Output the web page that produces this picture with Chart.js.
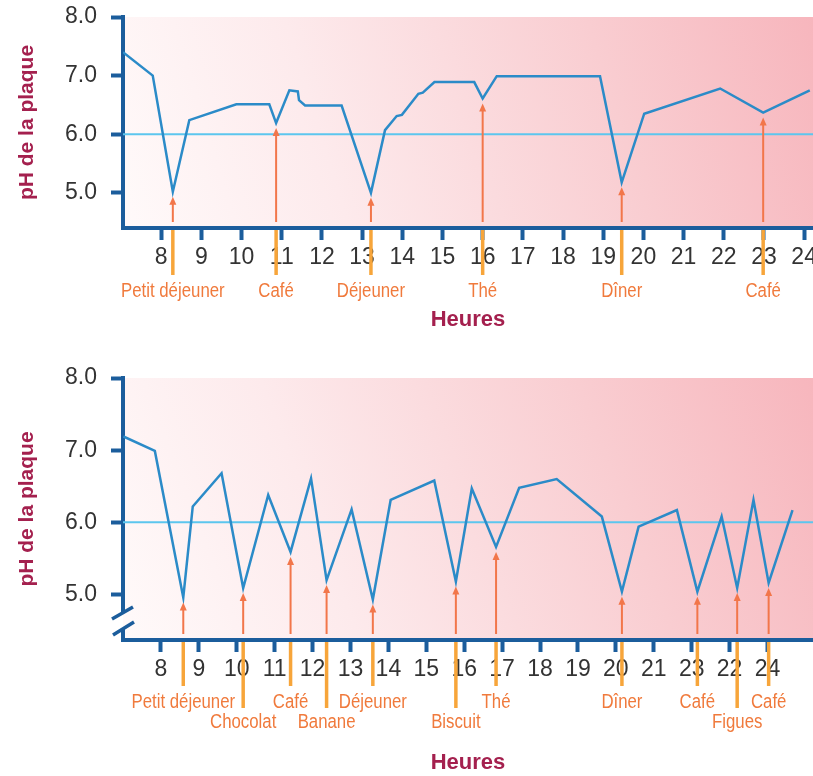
<!DOCTYPE html>
<html>
<head>
<meta charset="utf-8">
<script src="https://cdn.jsdelivr.net/npm/chart.js@4.4.1/dist/chart.umd.min.js"></script>
<style>
html, body { margin: 0; padding: 0; background: #fff; }
#top { position: absolute; left: 0; top: 0; }
#bottom { position: absolute; left: 0; top: 340px; }
</style>
</head>
<body>
<canvas id="top" width="813" height="340"></canvas>
<canvas id="bottom" width="813" height="436"></canvas>
<script>
// ---- data, top chart (normal day) ----
const topHours = [7.05, 7.79, 8.29, 8.70, 9.87, 10.69, 10.86, 11.19, 11.40, 11.43, 11.58, 12.49, 13.22, 13.57,
                  13.86, 13.99, 14.40, 14.51, 14.80, 15.79, 16.00, 16.35, 18.92, 19.46, 20.02, 21.91, 22.98, 24.14];
const topPH = [7.40, 7.00, 5.02, 6.24, 6.51, 6.51, 6.19, 6.75, 6.73, 6.58, 6.49, 6.49, 5.00, 6.07,
               6.31, 6.33, 6.69, 6.71, 6.89, 6.89, 6.61, 6.99, 6.99, 5.18, 6.35, 6.78, 6.37, 6.75];
const topTickPos = [8, 9, 10, 11, 12, 13, 14, 15, 16, 17, 18, 19, 20, 21, 22, 23, 24];
const topTickLabels = ['8', '9', '10', '11', '12', '13', '14', '15', '16', '17', '18', '19', '20', '21', '22', '23', '24'];
const topEventHours = [8.29, 10.86, 13.22, 16.00, 19.46, 22.98];
const topEventLabels = ['Petit déjeuner', 'Café', 'Déjeuner', 'Thé', 'Dîner', 'Café'];
const topEventRows = [0, 0, 0, 0, 0, 0];

// ---- data, bottom chart (snacking day) ----
const botHours = [7.01, 7.84, 8.59, 8.84, 9.60, 10.17, 10.83, 11.42, 11.96, 12.37, 13.03, 13.59, 14.06, 15.21,
                  15.78, 16.20, 16.84, 17.45, 18.44, 19.63, 20.16, 20.60, 21.61, 22.15, 22.79, 23.20, 23.63, 24.03, 24.66];
const botPH = [7.19, 6.99, 4.96, 6.22, 6.68, 5.09, 6.38, 5.59, 6.61, 5.20, 6.18, 4.93, 6.31, 6.58,
               5.18, 6.47, 5.66, 6.48, 6.60, 6.08, 5.04, 5.94, 6.17, 5.04, 6.08, 5.09, 6.31, 5.16, 6.17];
const botTickPos = [8, 9, 10, 11, 12, 13, 14, 15, 16, 17, 18, 19, 20, 21, 22, 23, 24];
// the printed axis really reads "... 21 23 22 24"
const botTickLabels = ['8', '9', '10', '11', '12', '13', '14', '15', '16', '17', '18', '19', '20', '21', '23', '22', '24'];
const botEventHours = [8.59, 10.17, 11.42, 12.37, 13.59, 15.78, 16.84, 20.16, 22.15, 23.20, 24.03];
const botEventLabels = ['Petit déjeuner', 'Chocolat', 'Café', 'Banane', 'Déjeuner', 'Biscuit', 'Thé', 'Dîner', 'Café', 'Figues', 'Café'];
const botEventRows = [0, 1, 0, 1, 0, 1, 0, 0, 0, 1, 0];

const yTicks = [5, 6, 7, 8];
const seuil = 6.0;

// ---- styles ----
const axisBlue = '#1b5d9c';
const curveBlue = '#2b8bc8';
const seuilCyan = '#5cc6ee';
const arrowRed = '#f2764a';
const arrowOrange = '#f7a53a';
const labelOrange = '#f07a3c';
const titleRed = '#a4204e';
const wide = "'Liberation Sans', Arial, sans-serif";

function valueAt(xs, ys, h) {
    for (let i = 0; i < xs.length - 1; i++) {
        if (h >= xs[i] && h <= xs[i + 1]) {
            const t = (h - xs[i]) / (xs[i + 1] - xs[i]);
            return ys[i] + t * (ys[i + 1] - ys[i]);
        }
    }
    return ys[ys.length - 1];
}

function bgGradient(ctx, a) {
    const g = ctx.createLinearGradient(a.left, a.bottom, a.right, a.top);
    g.addColorStop(0, '#fffafa');
    g.addColorStop(0.3, '#fdeaec');
    g.addColorStop(0.7, '#f9cdd1');
    g.addColorStop(1, '#f7b6bd');
    return g;
}

const eventPlugin = {
    id: 'events',
    beforeDraw(chart) {
        const ctx = chart.ctx, a = chart.chartArea;
        ctx.save();
        ctx.fillStyle = bgGradient(ctx, a);
        ctx.fillRect(a.left, a.top, a.right - a.left, a.bottom - a.top);
        ctx.restore();
    },
    afterDatasetsDraw(chart, args, o) {
        const ctx = chart.ctx, a = chart.chartArea;
        const xs = chart.scales.x, ys = chart.scales.y;
        ctx.save();
        o.hours.forEach(function (h) {
            const px = xs.getPixelForValue(h);
            const tip = ys.getPixelForValue(valueAt(o.xs, o.ys, h)) + 5;
            ctx.strokeStyle = arrowRed;
            ctx.lineWidth = 2;
            ctx.beginPath();
            ctx.moveTo(px, a.bottom - 6);
            ctx.lineTo(px, tip + 6);
            ctx.stroke();
            ctx.fillStyle = arrowRed;
            ctx.beginPath();
            ctx.moveTo(px, tip);
            ctx.lineTo(px - 3.5, tip + 8);
            ctx.lineTo(px + 3.5, tip + 8);
            ctx.closePath();
            ctx.fill();
        });
        ctx.restore();
    },
    afterDraw(chart, args, o) {
        const ctx = chart.ctx, a = chart.chartArea;
        const xs = chart.scales.x;
        ctx.save();
        o.hours.forEach(function (h, i) {
            const px = xs.getPixelForValue(h);
            const row = o.rows[i];
            ctx.strokeStyle = arrowOrange;
            ctx.lineWidth = 3.5;
            ctx.beginPath();
            ctx.moveTo(px, a.bottom + 2);
            ctx.lineTo(px, o.baselines[row] - (row ? 20 : 22));
            ctx.stroke();
            // condensed look for the meal labels
            ctx.save();
            ctx.translate(px, o.baselines[row]);
            ctx.scale(0.84, 1);
            ctx.fillStyle = labelOrange;
            ctx.font = '20px ' + wide;
            ctx.textAlign = 'center';
            ctx.textBaseline = 'alphabetic';
            ctx.fillText(o.labels[i], 0, 0);
            ctx.restore();
        });
        if (o.brk) {
            const top = a.bottom - 27, bot = a.bottom - 11;
            ctx.fillStyle = '#ffffff';
            ctx.fillRect(a.left - 4, top, 4, bot - top);
            ctx.fillStyle = bgGradient(ctx, a);
            ctx.fillRect(a.left, top, 4, bot - top);
            ctx.strokeStyle = axisBlue;
            ctx.lineWidth = 3.5;
            ctx.beginPath();
            ctx.moveTo(a.left - 11, a.bottom - 21);
            ctx.lineTo(a.left + 10, a.bottom - 33);
            ctx.moveTo(a.left - 10, a.bottom - 5);
            ctx.lineTo(a.left + 11, a.bottom - 18);
            ctx.stroke();
        }
        ctx.restore();
    }
};

function makeChart(canvasId, d) {
    return new Chart(document.getElementById(canvasId), {
        type: 'line',
        data: {
            datasets: [{
                data: d.xs.map((x, i) => ({ x: x, y: d.ys[i] })),
                borderColor: curveBlue,
                borderWidth: 2.5,
                pointRadius: 0,
                tension: 0
            }, {
                data: [{ x: d.xmin, y: seuil }, { x: d.xmax, y: seuil }],
                borderColor: seuilCyan,
                borderWidth: 2,
                pointRadius: 0
            }]
        },
        options: {
            responsive: false,
            animation: false,
            layout: { padding: { top: d.padTop, left: 0, right: 0, bottom: 0 } },
            plugins: {
                legend: { display: false },
                tooltip: { enabled: false },
                events: {
                    hours: d.eventHours, labels: d.eventLabels, rows: d.eventRows,
                    xs: d.xs, ys: d.ys, baselines: d.baselines, brk: d.brk
                }
            },
            scales: {
                x: {
                    type: 'linear',
                    min: d.xmin,
                    max: d.xmax,
                    afterBuildTicks: function (s) { s.ticks = d.tickPos.map(v => ({ value: v })); },
                    afterFit: function (s) { s.height = d.xHeight; s.paddingLeft = 0; s.paddingRight = 0; },
                    ticks: {
                        autoSkip: false,
                        maxRotation: 0,
                        padding: 4,
                        color: '#333333',
                        font: { family: wide, size: 23 },
                        callback: function (v, i) { return d.tickLabels[i]; }
                    },
                    grid: { drawOnChartArea: false, drawTicks: true, tickLength: 12, tickWidth: 4, tickColor: axisBlue },
                    border: { color: axisBlue, width: 4 },
                    title: {
                        display: true, text: 'Heures', color: titleRed,
                        font: { family: wide, size: 22, weight: 'bold' },
                        padding: { top: 0, bottom: d.titlePad }
                    }
                },
                y: {
                    min: d.ymin,
                    max: 8.0,
                    afterBuildTicks: function (s) { s.ticks = yTicks.map(v => ({ value: v })); },
                    afterFit: function (s) { s.width = 123; s.paddingTop = 0; s.paddingBottom = 0; },
                    ticks: {
                        padding: 14,
                        color: '#333333',
                        font: { family: wide, size: 23 },
                        callback: function (v) { return v.toFixed(1); }
                    },
                    grid: { drawOnChartArea: false, drawTicks: true, tickLength: 12, tickWidth: 4, tickColor: axisBlue },
                    border: { color: axisBlue, width: 4 },
                    title: {
                        display: true, text: 'pH de la plaque', color: titleRed,
                        font: { family: wide, size: 21, weight: 'bold' },
                        padding: { top: 15, bottom: 0 }
                    }
                }
            }
        },
        plugins: [eventPlugin]
    });
}

makeChart('top', {
    xs: topHours, ys: topPH, xmin: 7.05, xmax: 24.22, ymin: 4.4,
    tickPos: topTickPos, tickLabels: topTickLabels,
    eventHours: topEventHours, eventLabels: topEventLabels, eventRows: topEventRows,
    baselines: [297, 317], brk: false,
    padTop: 17, xHeight: 112, titlePad: 7
});

makeChart('bottom', {
    xs: botHours, ys: botPH, xmin: 7.0, xmax: 25.2, ymin: 4.37,
    tickPos: botTickPos, tickLabels: botTickLabels,
    eventHours: botEventHours, eventLabels: botEventLabels, eventRows: botEventRows,
    baselines: [368, 388], brk: true,
    padTop: 38, xHeight: 136, titlePad: 0
});
</script>
</body>
</html>
